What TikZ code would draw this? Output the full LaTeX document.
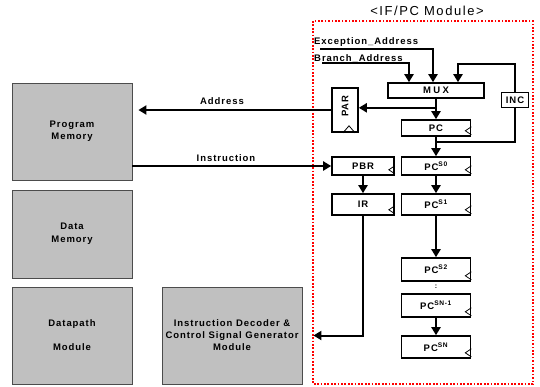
\documentclass[tikz,border=0pt]{standalone}
\usepackage{fontspec}
\setmainfont{Liberation Sans}[LetterSpace=10]
\newfontfamily\titlefont{Liberation Sans}[LetterSpace=12]
\usetikzlibrary{arrows.meta}
\definecolor{memgray}{HTML}{C0C0C0}

% clock triangle on the right edge of a register
\newcommand\clockmark[1]{\draw[clk] (#1.south east) ++(0,-2) -- ++(-6,-4) -- ++(6,-4);}

\begin{document}
\begin{tikzpicture}[x=1pt,y=-1pt,
  every node/.style={font=\fontsize{9.5}{12}\selectfont\bfseries, inner sep=0pt},
  reg/.style={draw, line width=1.6pt, fill=white, minimum width=69pt},
  mem/.style={draw=black!70, line width=0.8pt, fill=memgray, minimum width=120pt, align=center},
  arr/.style={line width=2pt, -{Triangle[length=8pt,width=9pt]}},
  wire/.style={line width=2pt},
  clk/.style={line width=0.8pt}
]
\useasboundingbox (0,0) rectangle (540,386);

% memories and external modules
\node[mem, minimum height=97pt] (PM) at (72,131.5) {Program\\Memory};
\node[mem, minimum height=88pt] (DM) at (72,234) {Data\\[1pt]Memory};
\node[mem, minimum height=97pt] (DP) at (72,335.5) {Datapath\\[12pt]Module};
\node[mem, minimum width=140pt, minimum height=97pt] (DEC) at (232,335.5)
  {Instruction Decoder \&\\Control Signal Generator\\Module};

% IF/PC module frame
\draw[red, line width=1.8pt, dash pattern=on 1.7pt off 1.7pt] (313,21) rectangle (533,384);
\node[font=\titlefont\fontsize{13}{14}\selectfont] (title) at (427,11) {<IF/PC Module>};

% registers
\node[reg, minimum width=96pt, minimum height=15pt] (MUX) at (436,90.5) {\addfontfeature{LetterSpace=25}MUX};
\node[reg, minimum height=16pt] (PC) at (436,128) {PC};
\node[reg, minimum height=18pt] (S0) at (436,166) {PC\textsuperscript{S0}};
\node[reg, minimum height=21pt] (S1) at (436,204.5) {PC\textsuperscript{S1}};
\node[reg, minimum height=23pt] (S2) at (436,269.5) {PC\textsuperscript{S2}};
\node[reg, minimum height=23pt] (SN1) at (436,305.5) {PC\textsuperscript{SN-1}};
\node[reg, minimum height=22pt] (SN) at (436,347) {PC\textsuperscript{SN}};
\node[reg, minimum width=62pt, minimum height=18pt] (PBR) at (363,166) {PBR};
\node[reg, minimum width=62pt, minimum height=21pt] (IR) at (363,204.5) {IR};
\node[reg, minimum width=26pt, minimum height=44pt] (PAR) at (345,110) {};
\node[rotate=90] (PARtxt) at (345,106) {PAR};
\node[reg, minimum width=27pt, minimum height=15pt] (INC) at (515,100) {INC};
\node[font=\fontsize{7}{8}\selectfont\bfseries] (dots) at (436,287) {:};

\foreach \r in {PC,S0,S1,S2,SN1,SN,PBR,IR} {\clockmark{\r}}
\draw[clk] (PAR.south) ++(-2,0) -- ++(6,-7) -- ++(6,7);

% address inputs to the MUX
\node[anchor=west] (exc) at (314,42) {Exception\_Address};
\node[anchor=west] (br) at (314,59) {Branch\_Address};
\coordinate (excS) at (320,49);
\coordinate (brS) at (322,63);
\draw[arr] (excS) -| ([xshift=-3pt]MUX.north);
\draw[arr] (brS) -| ([xshift=-27pt]MUX.north);

% MUX to PC, PAR and the increment loop
\coordinate (j1) at ([yshift=-9pt]MUX.south);
\draw[arr] (MUX.south) -- (PC.north);
\draw[arr] (j1) -- (j1 -| PAR.east);
\coordinate (j2) at ([yshift=-5pt]PC.south);
\coordinate (loopTop) at (515,64);
\draw[wire] (j2) -| (INC.south);
\draw[arr] (INC.north) -- (loopTop) -| ([xshift=22pt]MUX.north);

% pipeline
\draw[arr] (PC.south) -- (S0.north);
\draw[arr] (S0) -- (S1);
\draw[arr] (S1) -- (S2);
\draw[arr] (SN1) -- (SN);
\draw[arr] (PBR) -- (IR);

% memory interface
\draw[arr, shorten >=6pt] (PAR.west) -- (PAR.west -| PM.east);
\node (addrlbl) at (222,101) {Address};
\draw[arr] (PBR.west -| PM.east) -- (PBR.west);
\node (instrlbl) at (226,158) {Instruction};

% instruction to decoder
\draw[arr, shorten >=11pt] (IR.south) |- (DEC.east);
\end{tikzpicture}
\end{document}
